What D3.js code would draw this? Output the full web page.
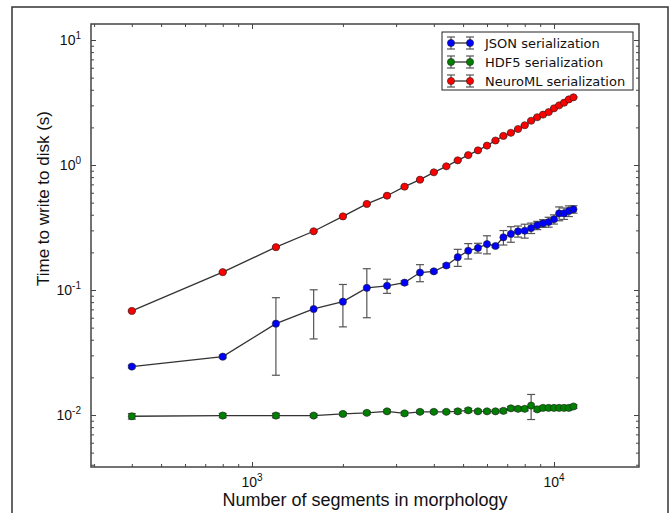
<!DOCTYPE html>
<html><head><meta charset="utf-8">
<script src="https://cdn.jsdelivr.net/npm/d3@7"></script>
<style>html,body{margin:0;padding:0;background:#fff;}svg{display:block;}</style>
</head><body>
<svg id="c" width="671" height="513"></svg>
<script>
const segments = [400,800,1200,1600,2000,2400,2800,3200,3600,4000,4400,4800,5200,5600,6000,6400,6800,7200,7600,8000,8400,8800,9200,9600,10000,10400,10800,11200,11600];
const jsonVals = [0.0244,0.0293,0.0538,0.0705,0.0807,0.104,0.108,0.1145,0.138,0.141,0.157,0.183,0.206,0.217,0.233,0.225,0.264,0.281,0.295,0.298,0.313,0.329,0.341,0.35,0.368,0.41,0.41,0.429,0.442];
const jsonErr  = [0.0006,0.0008,0.033,0.0299,0.030,0.044,0.014,0.004,0.0215,0.004,0.005,0.0285,0.029,0.0195,0.0385,0.005,0.035,0.04,0.03,0.038,0.03,0.025,0.024,0.032,0.031,0.052,0.043,0.042,0.03];
const hdf5Vals = [0.00977,0.0099,0.0099,0.0099,0.0102,0.0104,0.0107,0.0103,0.0106,0.0106,0.0106,0.0107,0.0109,0.0107,0.0107,0.0107,0.0108,0.0113,0.0112,0.0112,0.0119,0.0111,0.0114,0.0114,0.0114,0.0114,0.0114,0.0114,0.0117];
const hdf5Err  = [0.0005,0.0004,0.0004,0.0003,0.0003,0.0003,0.0003,0.0003,0.0003,0.0003,0.0003,0.0004,0.0004,0.0003,0.0003,0.0003,0.0004,0.0004,0.0004,0.0004,0.0027,0.0004,0.0004,0.0004,0.0004,0.0004,0.0004,0.0004,0.0004];
const nmlVals  = [0.068,0.139,0.22,0.295,0.388,0.488,0.568,0.671,0.763,0.874,0.976,1.09,1.20,1.31,1.43,1.57,1.71,1.81,1.94,2.08,2.26,2.41,2.53,2.65,2.84,3.0,3.15,3.35,3.48];
const nmlErr   = [0.001,0.002,0.003,0.004,0.005,0.006,0.007,0.008,0.009,0.01,0.012,0.013,0.014,0.016,0.017,0.019,0.02,0.022,0.023,0.025,0.027,0.029,0.03,0.032,0.034,0.036,0.038,0.04,0.042];
const seriesNames = ["JSON serialization","HDF5 serialization","NeuroML serialization"];
const seriesColors = ["#0000ff","#008000","#ff0000"];
const xMajor = [1000,10000], xMajorExp = ["3","4"];
const xMinor = [300,400,500,600,700,800,900,2000,3000,4000,5000,6000,7000,8000,9000];
const yMajor = [0.01,0.1,1,10], yMajorExp = ["-2","-1","0","1"];
const yMinor = [0.004,0.005,0.006,0.007,0.008,0.009,0.02,0.03,0.04,0.05,0.06,0.07,0.08,0.09,0.2,0.3,0.4,0.5,0.6,0.7,0.8,0.9,2,3,4,5,6,7,8,9];

const svg = d3.select("#c");
const L=91,R=639,T=24,B=467;
const x = d3.scaleLog().domain([293,19120]).range([L,R]);
const y = d3.scaleLog().domain([0.003837,13.43]).range([B,T]);

// outer figure border
svg.append("rect").attr("x",12).attr("y",7).attr("width",656).attr("height",520)
  .attr("fill","none").attr("stroke","#333").attr("stroke-width",1.5);

const axColor="#444";
function styleAxis(g){ g.select(".domain").remove(); g.selectAll(".tick line").attr("stroke",axColor).attr("stroke-width",1); g.selectAll(".tick text").remove(); }
svg.append("g").attr("transform",`translate(0,${B})`).call(d3.axisBottom(x).tickValues(xMajor).tickSize(-5)).call(styleAxis);
svg.append("g").attr("transform",`translate(0,${B})`).call(d3.axisBottom(x).tickValues(xMinor).tickSize(-3)).call(styleAxis);
svg.append("g").attr("transform",`translate(0,${T})`).call(d3.axisTop(x).tickValues(xMajor).tickSize(-5)).call(styleAxis);
svg.append("g").attr("transform",`translate(0,${T})`).call(d3.axisTop(x).tickValues(xMinor).tickSize(-3)).call(styleAxis);
svg.append("g").attr("transform",`translate(${L},0)`).call(d3.axisLeft(y).tickValues(yMajor).tickSize(-5)).call(styleAxis);
svg.append("g").attr("transform",`translate(${L},0)`).call(d3.axisLeft(y).tickValues(yMinor).tickSize(-3)).call(styleAxis);
svg.append("g").attr("transform",`translate(${R},0)`).call(d3.axisRight(y).tickValues(yMajor).tickSize(-5)).call(styleAxis);
svg.append("g").attr("transform",`translate(${R},0)`).call(d3.axisRight(y).tickValues(yMinor).tickSize(-3)).call(styleAxis);

// frame
svg.append("rect").attr("x",L).attr("y",T).attr("width",R-L).attr("height",B-T)
  .attr("fill","none").attr("stroke",axColor).attr("stroke-width",1.5);

const lblFont = "'Liberation Sans', Arial, sans-serif";
// x tick labels
xMajor.forEach((v,i)=>{
  const t = svg.append("text").attr("x",x(v)).attr("y",487).attr("text-anchor","middle")
    .attr("font-family",lblFont).attr("font-size",14).attr("fill","#111");
  t.append("tspan").text("10");
  t.append("tspan").attr("dy",-6).attr("font-size",10).text(xMajorExp[i]);
});
// y tick labels
yMajor.forEach((v,i)=>{
  const t = svg.append("text").attr("x",81).attr("y",y(v)+5).attr("text-anchor","end")
    .attr("font-family",lblFont).attr("font-size",14).attr("fill","#111");
  t.append("tspan").text("10");
  t.append("tspan").attr("dy",-6).attr("font-size",10).text(yMajorExp[i]);
});
svg.append("text").attr("x",(L+R)/2).attr("y",506).attr("text-anchor","middle")
  .attr("font-family",lblFont).attr("font-size",18).attr("fill","#111").text("Number of segments in morphology");
svg.append("text").attr("transform",`translate(49,${(T+B)/2-47}) rotate(-90)`).attr("text-anchor","middle")
  .attr("font-family",lblFont).attr("font-size",17).attr("fill","#111").text("Time to write to disk (s)");

const series = [
  {vals:jsonVals, err:jsonErr, color:seriesColors[0]},
  {vals:hdf5Vals, err:hdf5Err, color:seriesColors[1]},
  {vals:nmlVals, err:nmlErr, color:seriesColors[2]}
];
const plot = svg.append("g");
const line = d3.line().x((d,i)=>x(segments[i])).y(d=>y(d));
const ebColor="#555", cap=4;
series.forEach(s=>{
  const g = plot.append("g");
  s.vals.forEach((v,i)=>{
    const cx=x(segments[i]), y1=y(v+s.err[i]), y0=y(v-s.err[i]);
    g.append("line").attr("x1",cx).attr("x2",cx).attr("y1",y1).attr("y2",y0).attr("stroke",ebColor).attr("stroke-width",1.2);
    g.append("line").attr("x1",cx-cap).attr("x2",cx+cap).attr("y1",y1).attr("y2",y1).attr("stroke",ebColor).attr("stroke-width",1.2);
    g.append("line").attr("x1",cx-cap).attr("x2",cx+cap).attr("y1",y0).attr("y2",y0).attr("stroke",ebColor).attr("stroke-width",1.2);
  });
  g.append("path").attr("d",line(s.vals)).attr("fill","none").attr("stroke","#333").attr("stroke-width",1.3);
  g.selectAll("circle").data(s.vals).join("circle")
    .attr("cx",(d,i)=>x(segments[i])).attr("cy",d=>y(d)).attr("r",3.6)
    .attr("fill",s.color).attr("stroke","#222").attr("stroke-width",0.6);
});

// legend
const lg = svg.append("g");
lg.append("rect").attr("x",442).attr("y",32).attr("width",191).attr("height",58)
  .attr("fill","#fff").attr("stroke","#222").attr("stroke-width",1);
seriesNames.forEach((n,i)=>{
  const yy = 43 + i*19;
  [451,470].forEach(cx=>{
    lg.append("line").attr("x1",cx).attr("x2",cx).attr("y1",yy-6).attr("y2",yy+6).attr("stroke",ebColor).attr("stroke-width",1.2);
    lg.append("line").attr("x1",cx-cap).attr("x2",cx+cap).attr("y1",yy-6).attr("y2",yy-6).attr("stroke",ebColor).attr("stroke-width",1.2);
    lg.append("line").attr("x1",cx-cap).attr("x2",cx+cap).attr("y1",yy+6).attr("y2",yy+6).attr("stroke",ebColor).attr("stroke-width",1.2);
  });
  lg.append("line").attr("x1",451).attr("x2",470).attr("y1",yy).attr("y2",yy).attr("stroke","#333").attr("stroke-width",1.3);
  [451,470].forEach(cx=>lg.append("circle").attr("cx",cx).attr("cy",yy).attr("r",3.6).attr("fill",seriesColors[i]).attr("stroke","#222").attr("stroke-width",0.6));
  lg.append("text").attr("x",485).attr("y",yy+4.5).attr("font-family","'DejaVu Sans', sans-serif").attr("font-size",13).attr("fill","#111").text(n);
});
</script>
</body></html>
